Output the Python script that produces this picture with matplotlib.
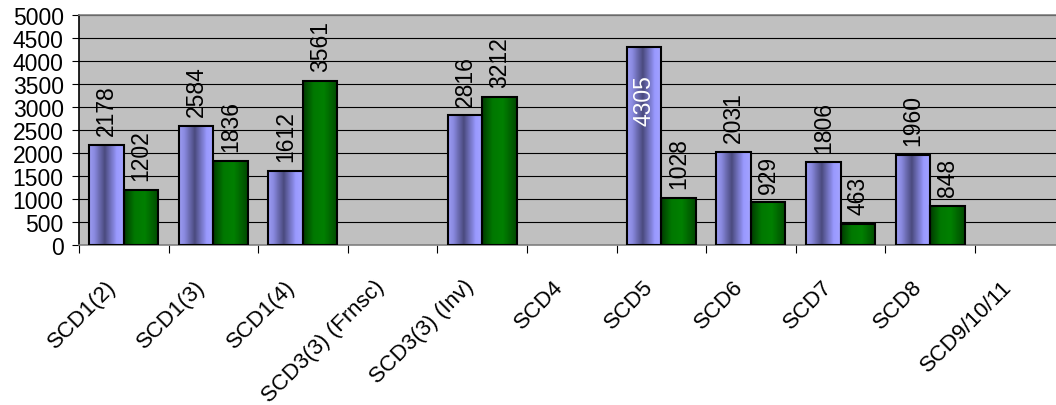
import numpy as np
import matplotlib
matplotlib.use("Agg")
import matplotlib.pyplot as plt
from matplotlib.colors import LinearSegmentedColormap

plt.rcParams["font.family"] = ["Liberation Sans", "DejaVu Sans"]

CATEGORIES = ["SCD1(2)", "SCD1(3)", "SCD1(4)", "SCD3(3) (Frnsc)", "SCD3(3) (Inv)",
              "SCD4", "SCD5", "SCD6", "SCD7", "SCD8", "SCD9/10/11"]
SERIES_A = [2178, 2584, 1612, np.nan, 2816, np.nan, 4305, 2031, 1806, 1960, np.nan]
SERIES_B = [1202, 1836, 3561, np.nan, 3212, np.nan, 1028, 929, 463, 848, np.nan]
Y_TICKS = list(range(0, 5001, 500))

FS = 16.5

blue_cmap = LinearSegmentedColormap.from_list(
    "blue_grad", [(0.0, "#9c9cf2"), (0.15, "#8a8ae0"), (0.45, "#4a4a7e"),
                  (0.8, "#9999ff"), (1.0, "#a4a4ff")])
green_cmap = LinearSegmentedColormap.from_list(
    "green_grad", [(0.0, "#003c00"), (0.3, "#007800"), (0.6, "#008000"),
                   (1.0, "#004a00")])

fig = plt.figure(figsize=(10.56, 4.06), dpi=100)
ax = fig.add_axes([0.0748, 0.394, 0.9333, 0.567])
ax.set_facecolor("#c0c0c0")

x = np.arange(len(CATEGORIES))
w = 0.385
bars_a = ax.bar(x - w / 2, SERIES_A, w, facecolor="none", edgecolor="black",
                linewidth=1.5, zorder=3)
bars_b = ax.bar(x + w / 2, SERIES_B, w, facecolor="none", edgecolor="black",
                linewidth=1.5, zorder=3)

grad = np.linspace(0, 1, 64).reshape(1, -1)
for bars, cmap in [(bars_a, blue_cmap), (bars_b, green_cmap)]:
    for p in bars:
        h = p.get_height()
        if np.isnan(h):
            continue
        x0 = p.get_x()
        im = ax.imshow(grad, extent=[x0, x0 + p.get_width(), 0, h], aspect="auto",
                       cmap=cmap, zorder=2, interpolation="bilinear")
        im.set_clip_path(p)

# value labels (the tallest one sits inside its bar, in white)
for bars in [bars_a, bars_b]:
    for p in bars:
        h = p.get_height()
        if np.isnan(h):
            continue
        cx = p.get_x() + p.get_width() / 2
        if h > 4000:
            ax.annotate(f"{int(h)}", xy=(cx, h), xytext=(0, -20), textcoords="offset points",
                        rotation=90, ha="center", va="top", fontsize=FS, color="white", zorder=4)
        else:
            ax.annotate(f"{int(h)}", xy=(cx, h), xytext=(0, 7), textcoords="offset points",
                        rotation=90, ha="center", va="bottom", fontsize=FS, color="black", zorder=4)

ax.set_xlim(-0.5, len(CATEGORIES) - 0.5)
ax.set_ylim(0, 5000)
ax.set_yticks(Y_TICKS)
ax.set_yticklabels([str(v) for v in Y_TICKS], fontsize=FS)
ax.yaxis.grid(True, color="black", linewidth=0.8)
ax.set_axisbelow(True)

# ticks on category boundaries, labels hung just left of the category centres
ax.set_xticks(np.arange(len(CATEGORIES) + 1) - 0.5)
ax.set_xticklabels([])
ax.set_xticks(x - 0.21, CATEGORIES, minor=True)
ax.tick_params(axis="x", which="major", length=6, width=0.8, direction="out")
ax.tick_params(axis="x", which="minor", length=0, pad=22, labelsize=16)
ax.tick_params(axis="y", length=5, width=0.8, pad=6)
plt.setp(ax.get_xticklabels(minor=True), rotation=45, ha="right", rotation_mode="anchor")

ax.spines["left"].set_color("black")
ax.spines["bottom"].set_color("#808080")
ax.spines["top"].set_color("#808080")
ax.spines["right"].set_visible(False)
for s in ax.spines.values():
    s.set_linewidth(1.2)

fig.savefig("out.png", dpi=100)
